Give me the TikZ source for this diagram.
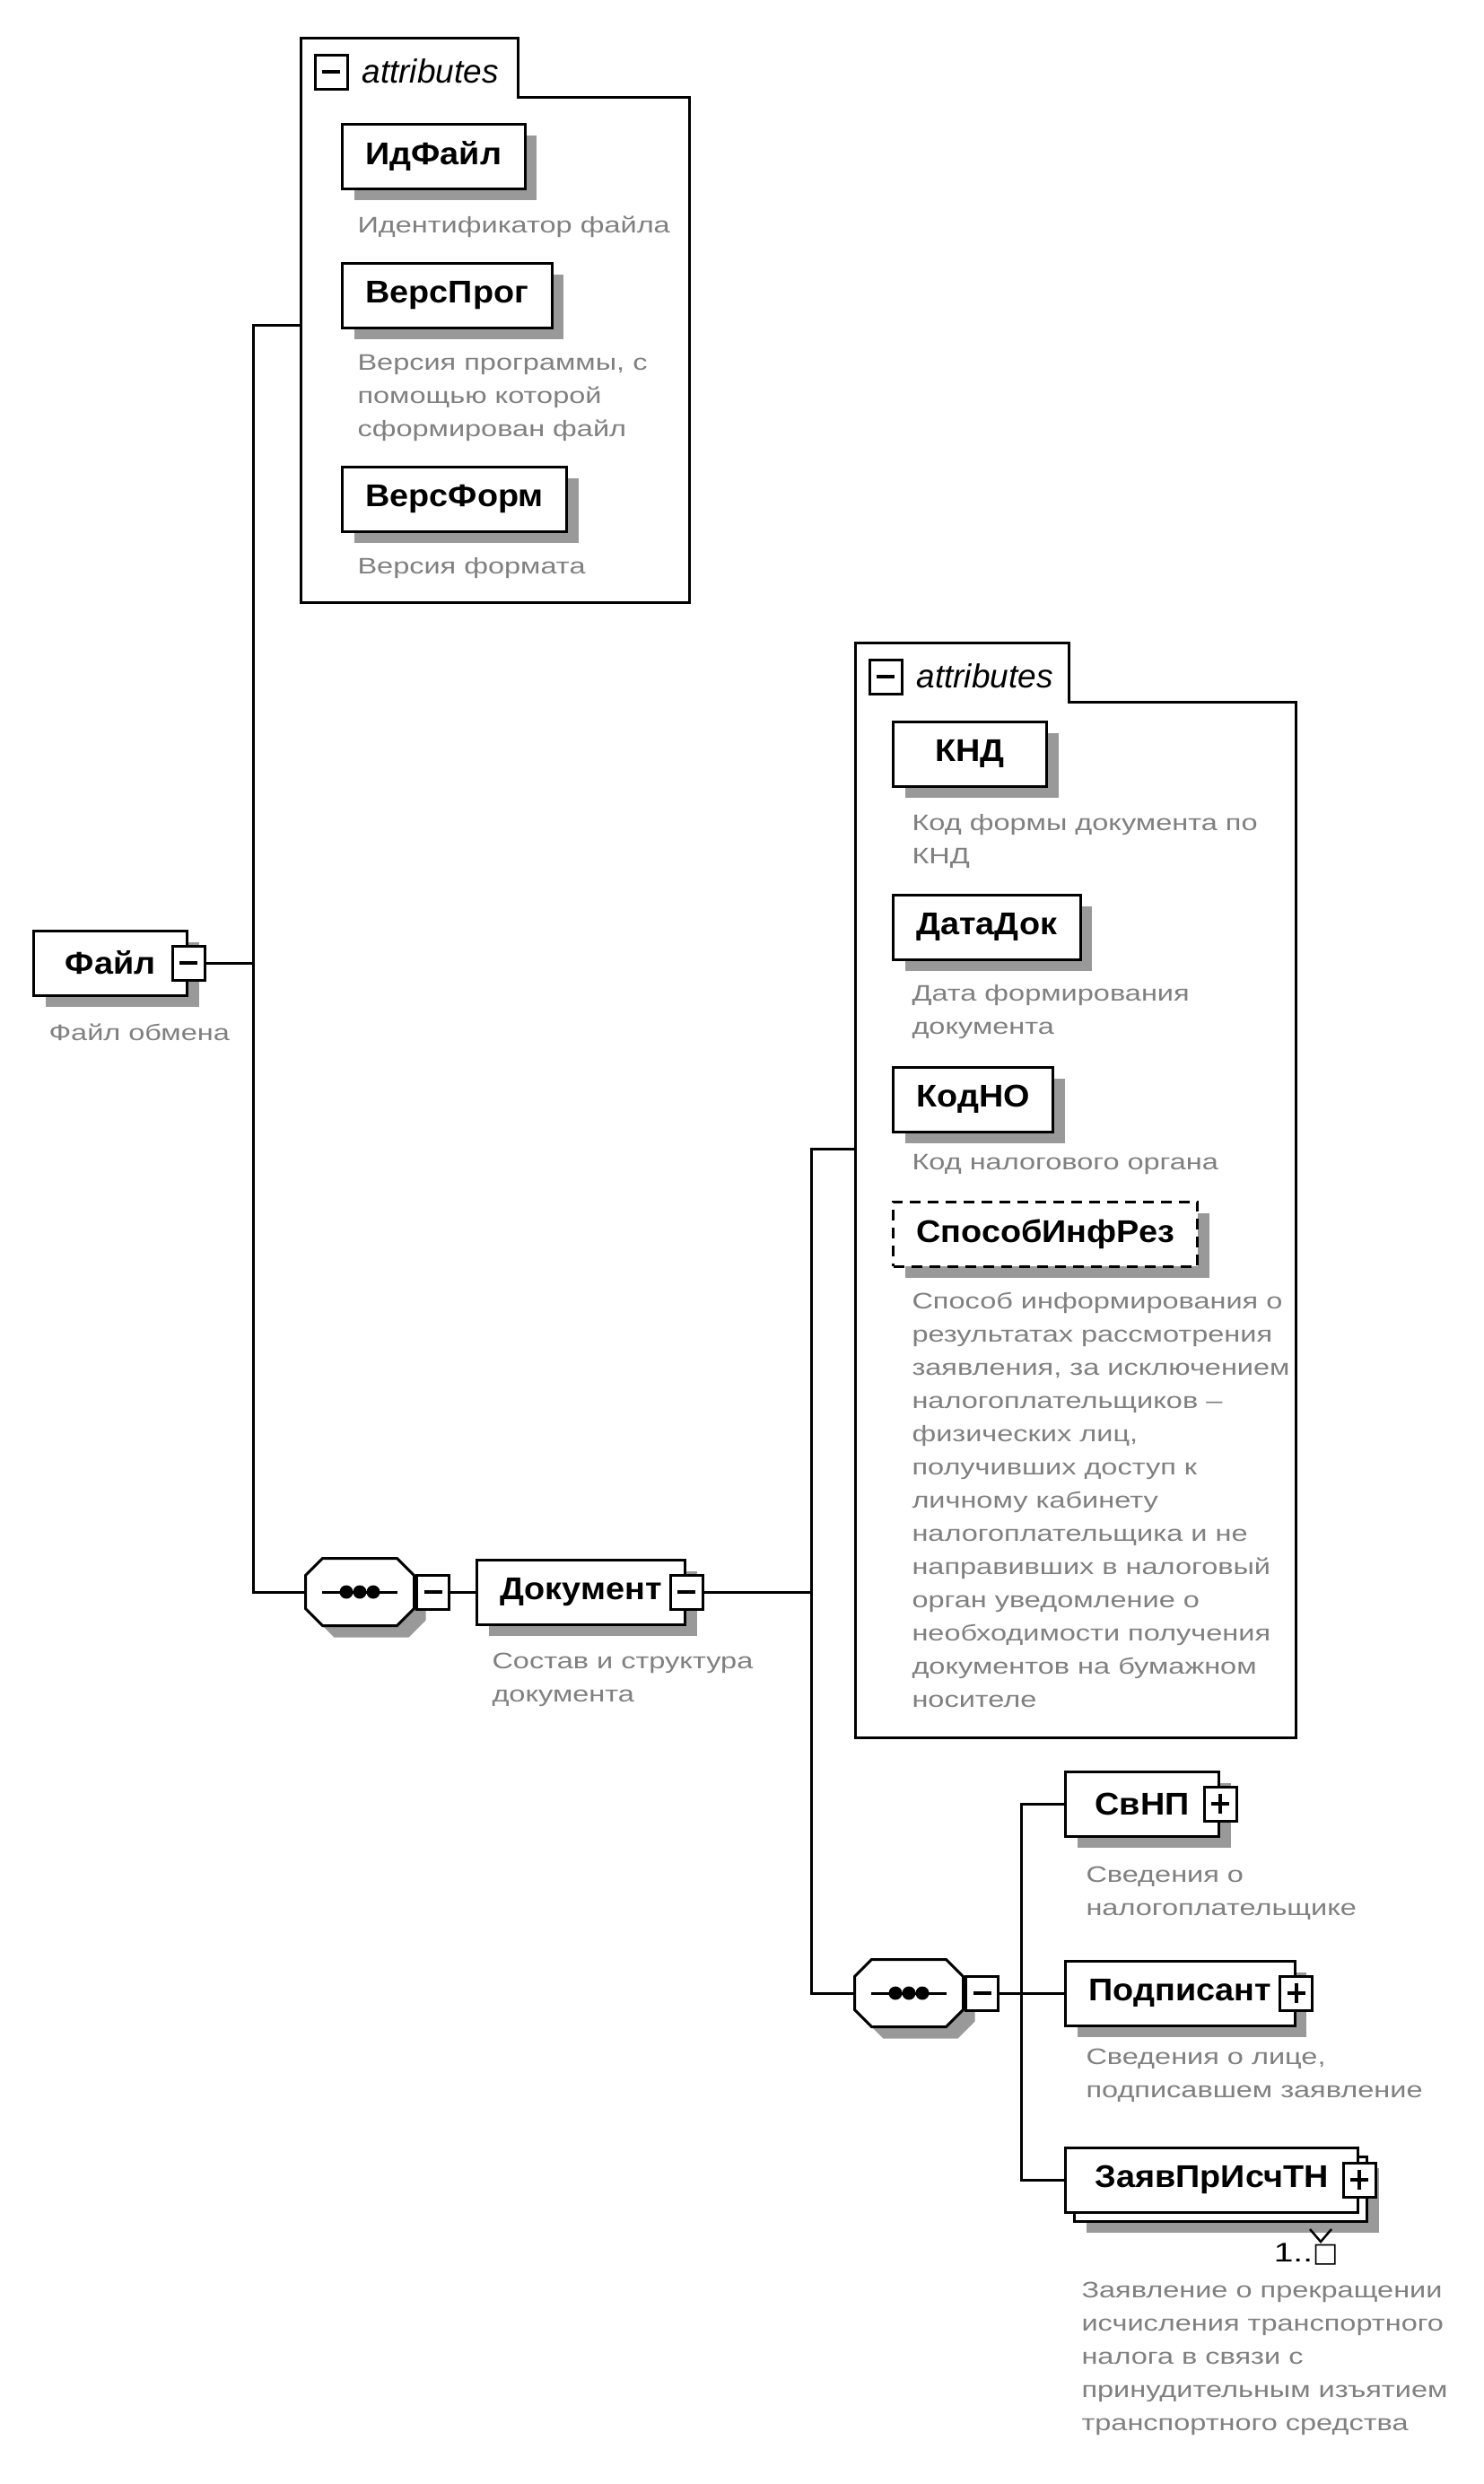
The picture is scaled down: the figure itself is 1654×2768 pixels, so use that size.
\documentclass[tikz,border=0pt]{standalone}
\usepackage{fontspec}
\setmainfont{Liberation Sans}
\newfontfamily\lblfont[FakeStretch=1.08]{Liberation Sans}
\newfontfamily\descfont[FakeStretch=1.3]{Liberation Sans}
\newfontfamily\symfont{DejaVu Sans}
\usetikzlibrary{positioning,shadows}

\begin{document}
\begin{tikzpicture}[x=1pt, y=-1pt, line width=3pt,
    elembase/.style={draw, fill=white, anchor=west, minimum height=72pt, minimum width=171pt, inner xsep=26pt, font=\lblfont\bfseries\fontsize{35}{40}\selectfont},
    elem/.style={elembase, drop shadow={shadow xshift=13pt, shadow yshift=-13pt, fill=black!40, opacity=1}},
    desc/.style={anchor=north west, align=left, inner sep=0pt, text=black!50, font=\descfont\fontsize{25}{37}\selectfont},
    minusbtn/.style={draw, fill=white, minimum width=36pt, minimum height=38pt, inner sep=0pt,
        path picture={\draw[line width=4pt] ([xshift=8pt]path picture bounding box.west) -- ([xshift=-8pt]path picture bounding box.east);}},
    plusbtn/.style={minusbtn,
        path picture={\draw[line width=4pt] ([xshift=8pt]path picture bounding box.west) -- ([xshift=-8pt]path picture bounding box.east);
                      \draw[line width=4pt] ([yshift=-8pt]path picture bounding box.north) -- ([yshift=8pt]path picture bounding box.south);}},
    seqbox/.style={minimum width=121pt, minimum height=75pt, inner sep=0pt,
        path picture={\draw[black, line width=3pt] ([xshift=-42pt]path picture bounding box.center) -- ([xshift=42pt]path picture bounding box.center);
                      \foreach \d in {-15,0,15} \fill[black] ([xshift=\d pt]path picture bounding box.center) circle (7.5pt);}},
    attrtitle/.style={anchor=base west, inner sep=0pt, font=\itshape\fontsize{37}{40}\selectfont}
]
\useasboundingbox (0,0) rectangle (1654,2768);

% attribute groups
\draw (335,42) -- (577,42) -- (577,108) -- (768,108) -- (768,671) -- (335,671) -- cycle;
\node[minusbtn] (fileattrbtn) at (369,80) {};
\node[attrtitle] (fileattrtitle) at (402,92) {attributes};
\coordinate (fileattrs) at (335,362);

\draw (953,716) -- (1191,716) -- (1191,782) -- (1444,782) -- (1444,1936) -- (953,1936) -- cycle;
\node[minusbtn] (docattrbtn) at (987,754) {};
\node[attrtitle] (docattrtitle) at (1020,766) {attributes};
\coordinate (docattrs) at (953,1280);

% sequence octagons
\foreach \c in {(401,1774),(1013,2221)} {
  \fill[black!40, shift=\c, shift={(13,13)}] (-41.5,-37.5) -- (41.5,-37.5) -- (60.5,-18.5) -- (60.5,18.5) -- (41.5,37.5) -- (-41.5,37.5) -- (-60.5,18.5) -- (-60.5,-18.5) -- cycle;
  \draw[fill=white, shift=\c] (-41.5,-37.5) -- (41.5,-37.5) -- (60.5,-18.5) -- (60.5,18.5) -- (41.5,37.5) -- (-41.5,37.5) -- (-60.5,18.5) -- (-60.5,-18.5) -- cycle;
}

% Файл
\node[elem] (file) at (36,1073) {Файл};
\node[minusbtn] (filebtn) at (file.east) {};
\node[desc] (filedesc) at (53,1139) {Файл обмена};

\node[elem] (idfile) at (380,174) {ИдФайл};
\node[desc] (idfiledesc) at (397,239) {Идентификатор файла};
\node[elem] (verprog) at (380,329) {ВерсПрог};
\node[desc] (verprogdesc) at (397,394) {Версия программы, с\\помощью которой\\сформирован файл};
\node[elem] (verform) at (380,556) {ВерсФорм};
\node[desc] (verformdesc) at (397,620) {Версия формата};

% Документ
\node[seqbox] (seqA) at (401,1774) {};
\node[minusbtn, anchor=west] (seqAbtn) at (seqA.east) {};
\node[elem] (doc) at (530,1774) {Документ};
\node[minusbtn] (docbtn) at (doc.east) {};
\node[desc] (docdesc) at (547,1841) {Состав и структура\\документа};

\node[elem] (knd) at (994,840) {КНД};
\node[desc] (knddesc) at (1015,906) {Код формы документа по\\КНД};
\node[elem] (datadoc) at (994,1033) {ДатаДок};
\node[desc] (datadocdesc) at (1015,1096) {Дата формирования\\документа};
\node[elem] (kodno) at (994,1225) {КодНО};
\node[desc] (kodnodesc) at (1015,1285) {Код налогового органа};
\node[elem, dashed, dash pattern=on 12pt off 8pt] (sposob) at (994,1375) {СпособИнфРез};
\node[desc] (sposobdesc) at (1015,1439) {Способ информирования о\\результатах рассмотрения\\заявления, за исключением\\налогоплательщиков –\\физических лиц,\\получивших доступ к\\личному кабинету\\налогоплательщика и не\\направивших в налоговый\\орган уведомление о\\необходимости получения\\документов на бумажном\\носителе};

% children of Документ
\node[seqbox] (seqB) at (1013,2221) {};
\node[minusbtn, anchor=west] (seqBbtn) at (seqB.east) {};
\node[elem] (svnp) at (1186,2010) {СвНП};
\node[plusbtn] (svnpbtn) at (svnp.east) {};
\node[desc] (svnpdesc) at (1209,2079) {Сведения о\\налогоплательщике};
\node[elem] (signer) at (1186,2221) {Подписант};
\node[plusbtn] (signerbtn) at (signer.east) {};
\node[desc] (signerdesc) at (1209,2282) {Сведения о лице,\\подписавшем заявление};
\node[elem, minimum width=326pt] (claimback) at (1196,2439) {};
\node[elembase, minimum width=326pt] (claim) at (1186,2429) {ЗаявПрИсчТН};
\node[plusbtn] (claimbtn) at (claim.east) {};
\draw[line width=2.5pt] (1460,2484) -- (1472,2498) -- (1484,2484);
\node[anchor=base east, inner sep=0pt, font=\descfont\fontsize{30}{32}\selectfont] (claimcount) at (1493,2520) {1..{\symfont □}};
\node[desc] (claimdesc) at (1204,2542) {Заявление о прекращении\\исчисления транспортного\\налога в связи с\\принудительным изъятием\\транспортного средства};

% connectors
\coordinate (forkA) at (282,1073);
\coordinate (forkB) at (904,1774);
\coordinate (forkC) at (1138,2221);
\draw (filebtn.east) -- (forkA);
\draw (fileattrs) -| (forkA) |- (seqA.west);
\draw (seqAbtn.east) -- (doc.west);
\draw (docbtn.east) -- (forkB);
\draw (docattrs) -| (forkB) |- (seqB.west);
\draw (seqBbtn.east) -- (signer.west);
\draw (svnp.west) -| (forkC) |- (claim.west);
\end{tikzpicture}
\end{document}
